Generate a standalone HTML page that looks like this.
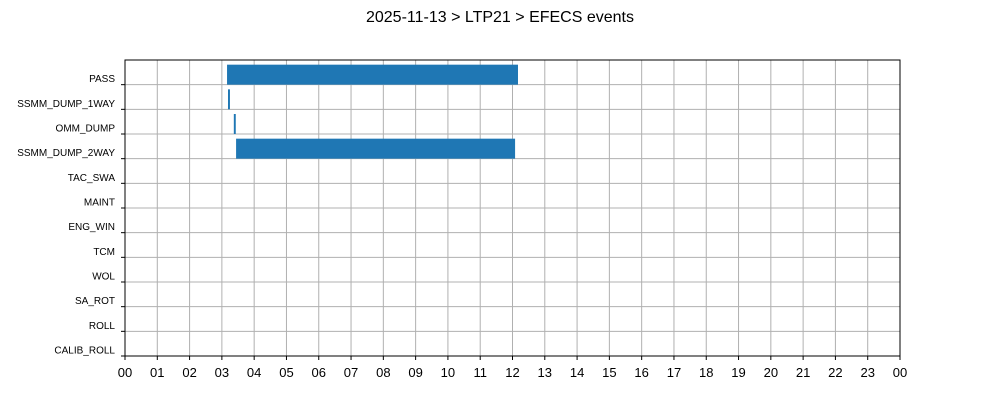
<!DOCTYPE html>
<html><head><meta charset="utf-8"><style>
body{margin:0;background:#fff;}
svg{display:block;font-family:"Liberation Sans","DejaVu Sans",sans-serif;}
</style></head><body>
<svg id="chart" width="1000" height="400">
<text x="500" y="22" text-anchor="middle" font-size="16">2025-11-13 &gt; LTP21 &gt; EFECS events</text>
</svg>
<script>
const categories=["PASS","SSMM_DUMP_1WAY","OMM_DUMP","SSMM_DUMP_2WAY","TAC_SWA","MAINT","ENG_WIN","TCM","WOL","SA_ROT","ROLL","CALIB_ROLL"];
const startHours=[3.16,3.19,3.37,3.44];
const endHours=[12.17,3.25,3.43,12.08];
const barCats=["PASS","SSMM_DUMP_1WAY","OMM_DUMP","SSMM_DUMP_2WAY"];
const xTicks=["00","01","02","03","04","05","06","07","08","09","10","11","12","13","14","15","16","17","18","19","20","21","22","23","00"];
const svg=document.getElementById('chart');
const NS="http://www.w3.org/2000/svg";
const L=125,R=900,T=60,B=356;
const x=h=>L+(R-L)*h/24;
const rowH=(B-T)/categories.length;
const yLine=i=>T+(i+1)*rowH;
function mk(tag,attrs){const e=document.createElementNS(NS,tag);for(const k in attrs)e.setAttribute(k,attrs[k]);svg.appendChild(e);return e;}
// grid
xTicks.forEach((t,i)=>{
 const gx=x(i);
 const g=mk('line',{x1:gx,x2:gx,y1:T,y2:B,stroke:'#b0b0b0','stroke-width':1});
 
 
 const tk=mk('line',{x1:gx,x2:gx,y1:B,y2:B+4,stroke:'#000','stroke-width':1});
 
 
 const tx=mk('text',{x:gx,y:B+21,'text-anchor':'middle','font-size':13});
 tx.textContent=t;
 
 
});
categories.forEach((c,i)=>{
 const gy=yLine(i);
 const g=mk('line',{x1:L,x2:R,y1:gy,y2:gy,stroke:'#b0b0b0','stroke-width':1});
 
 
 const tk=mk('line',{x1:L-4,x2:L,y1:gy,y2:gy,stroke:'#000','stroke-width':1});
 
 
 const tx=mk('text',{x:L-10,y:gy-2.5,'text-anchor':'end','font-size':10});
 tx.textContent=c;
 
 
});
barCats.forEach((c,j)=>{
 const i=categories.indexOf(c);
 const x0=x(startHours[j]),x1=x(endHours[j]);
 const b=mk('rect',{x:x0,y:yLine(i)-20,width:Math.max(x1-x0,1.5),height:20,fill:'#1f77b4'});
 
 
});
const f=mk('rect',{x:L,y:T,width:R-L,height:B-T,fill:'none',stroke:'#000','stroke-width':1});


</script>
</body></html>
